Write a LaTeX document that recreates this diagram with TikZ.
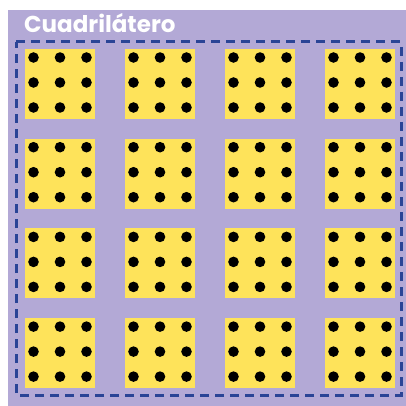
\documentclass[tikz,border=0pt]{standalone}
\usepackage{fontspec}
\newfontfamily\titlefont{Poppins}
\usetikzlibrary{positioning,calc}
\definecolor{boardFill}{RGB}{179,169,214}
\definecolor{tileFill}{RGB}{254,227,90}
\definecolor{frameStroke}{RGB}{42,68,150}

\begin{document}
\begin{tikzpicture}[
  x=1pt, y=-1pt,
  board/.style={fill=boardFill, draw=none},
  tile/.style={fill=tileFill, draw=none, minimum width=70pt, minimum height=70pt, inner sep=0pt},
  pin/.style={fill=black},
  dashframe/.style={draw=frameStroke, line width=3pt, dash pattern=on 9pt off 6pt},
  ttl/.style={font=\titlefont\bfseries\fontsize{23}{26}\selectfont, text=white, inner sep=0pt, anchor=base west}
]
\useasboundingbox (0,0) rectangle (406,406);

% ============ BACKGROUND ============
\fill[board] (8,10) rectangle (406,406);
\node[ttl] (title) at (24,33) {Cuadrilátero};

% ============ DASHED FRAME ============
\coordinate (fnw) at (16,42);
\coordinate (fse) at (401,395);
\draw[dashframe] (fnw) -- (fnw -| fse) -- (fse) -- (fnw |- fse) -- cycle;

% ============ 4x4 GRID OF TILES, 3x3 PINS EACH ============
\foreach \i in {0,...,3}{
  \foreach \j in {0,...,3}{
    \node[tile] (sq-\i-\j) at ({60+100*\i},{84+89.7*\j}) {};
    \foreach \dx in {-26.5,0,26.5}
      \foreach \dy in {-26.5,-1.5,23.5}
        \fill[pin] ($(sq-\i-\j)+(\dx,\dy)$) circle (5.3);
  }
}

\end{tikzpicture}
\end{document}
